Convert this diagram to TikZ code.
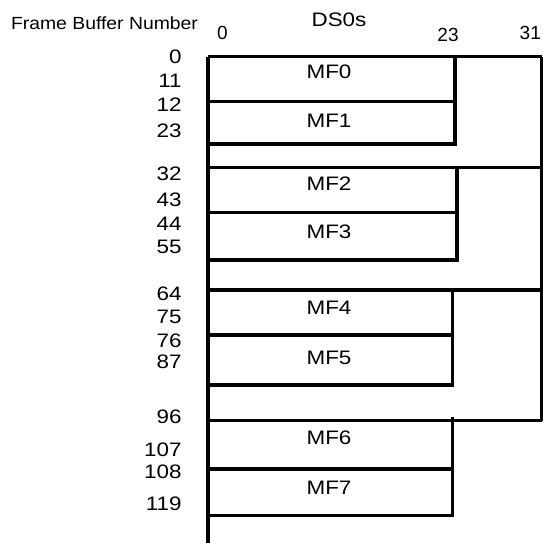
\documentclass[tikz,border=0pt]{standalone}
\usepackage{fontspec}
\setmainfont{Liberation Sans}
\newfontfamily\widefont[FakeStretch=1.15]{Liberation Sans}
\newfontfamily\headfont[FakeStretch=1.1]{Liberation Sans}

\begin{document}
\begin{tikzpicture}[x=1pt, y=-1pt, line width=3.3pt]
\tikzset{lbl/.style={inner sep=0pt, font=\widefont\fontsize{19.5}{22}\selectfont}}
\tikzset{numlbl/.style={lbl, anchor=east}}
\tikzset{collbl/.style={inner sep=0pt, font=\fontsize{19}{22}\selectfont}}
\tikzset{headlbl/.style={inner sep=0pt, font=\headfont\fontsize{17.6}{20}\selectfont}}
\useasboundingbox (0,0) rectangle (543,543);

    \coordinate (L0) at (208,56.7);
    \coordinate (L1) at (208,167.3);
    \coordinate (L2) at (208,290);
    \coordinate (L3) at (208,420.7);
    \coordinate (Lend) at (208,545);

    \coordinate (R0) at (541.5,56.7);
    \coordinate (R1) at (541.5,167.3);
    \coordinate (R2) at (541.5,290);
    \coordinate (R3) at (541.5,420.7);

    % outer frame
    \draw (L0) -- (Lend);
    \draw (R0) -- (R3);
    \draw (L0) -- (R0);
    \draw (L1) -- (R1);
    \draw (L2) -- (R2);
    \draw (L3) -- (R3);
% % % % % % % % % % % % % % % % % % %
    % pairs of multiframes
    \foreach \t/\s/\d/\b/\v/\i/\ya/\j/\yb in {
        56.7/56.7/101.7/144/455/0/72/1/120.8,
        167.3/167.3/212.7/260/457/2/183.7/3/232,
        290/290/335/385/452.7/4/307.5/5/357.5,
        420.7/416.7/469/515.7/452.7/6/438/7/487.5}{
        \coordinate (D\i) at (208,\d);
        \coordinate (B\i) at (208,\b);
        \draw (D\i) -- (\v,\d);
        \draw (B\i) -- (\v,\b) -- (\v,\s);
        \node[lbl] (mf\i) at (329,\ya) {MF\i};
        \node[lbl] (mf\j) at (329,\yb) {MF\j};
    }
% % % % % % % % % % % % % % % % % % %
    % headings
    \node[headlbl] (fbn) at (104.5,23) {Frame Buffer Number};
    \node[lbl] (ds0s) at (339,19.7) {DS0s};
    \node[collbl] (col0) at (222.5,33) {0};
    \node[collbl] (col23) at (448,35) {23};
    \node[collbl, anchor=east] (col31) at (542.5,32.5) {31};

    % frame buffer numbers
    \foreach \n/\y in {0/56.7, 11/81, 12/105, 23/130.7,
        32/173.3, 43/199.7, 44/223.8, 55/246.7,
        64/293.3, 75/317, 76/341, 87/361.5,
        96/416.3, 107/450, 108/471.3, 119/503.7}{
        \node[numlbl] (fb\n) at (183.3,\y) {\n};
    }
\end{tikzpicture}
\end{document}
